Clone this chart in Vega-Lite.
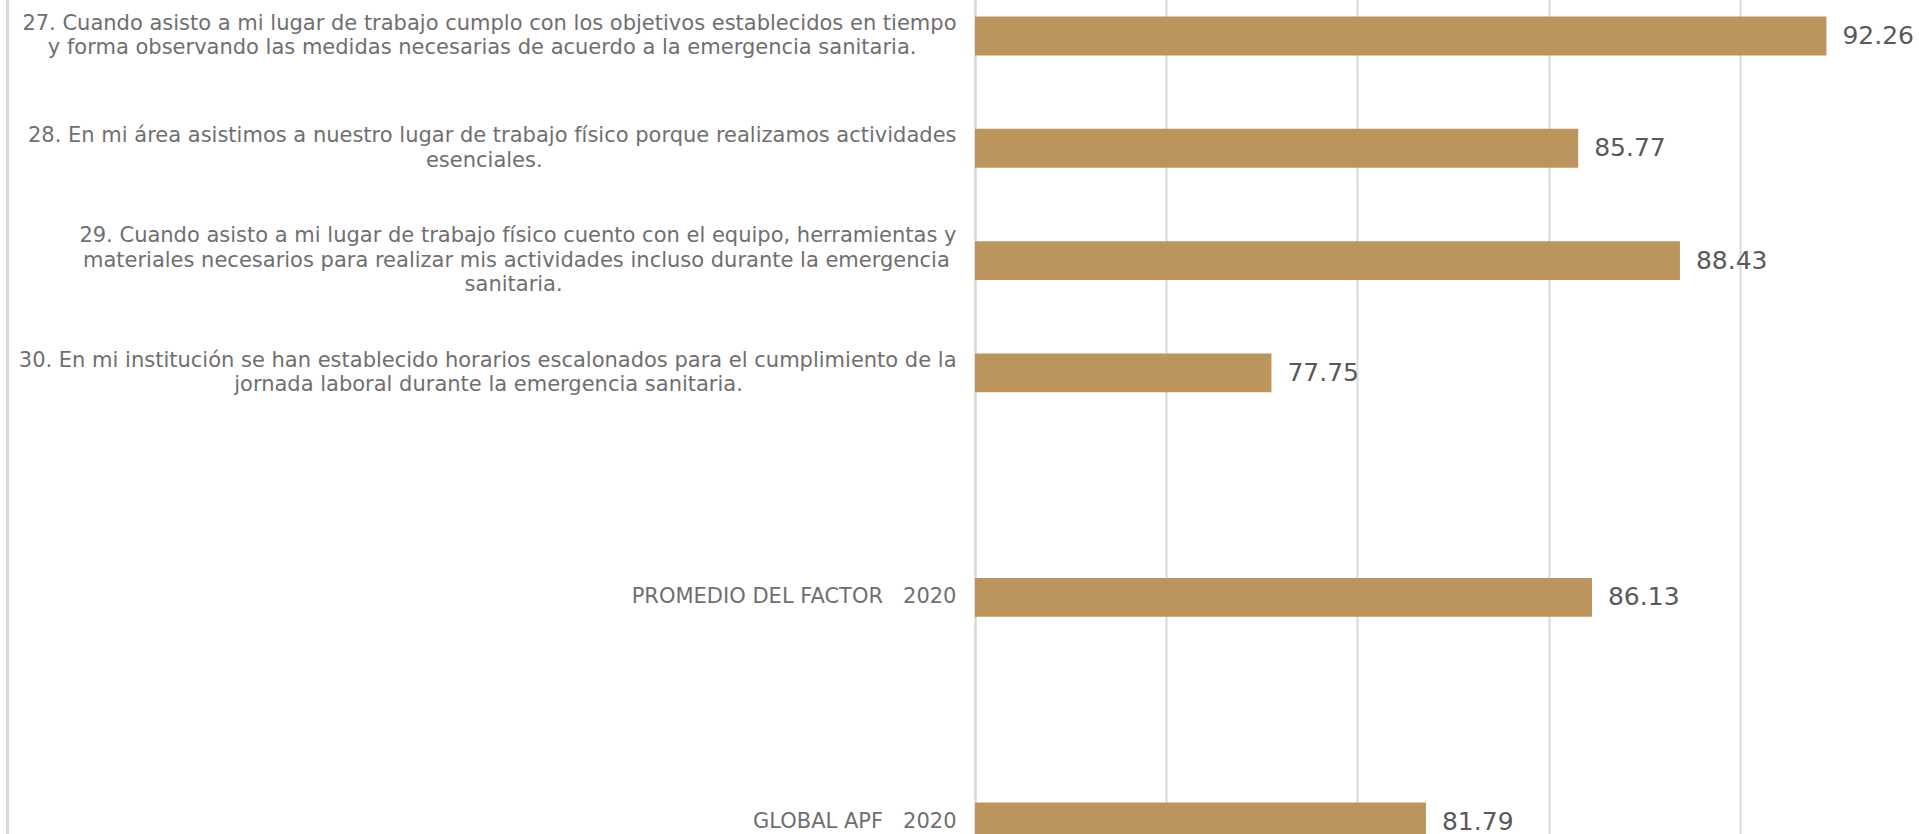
{
  "$schema": "https://vega.github.io/schema/vega-lite/v6.json",
  "autosize": "none",
  "padding": {"left": 975, "top": 0, "right": 0, "bottom": 0},
  "width": 944,
  "height": 834,
  "background": "white",
  "config": {"view": {"stroke": null}},
  "data": {
    "values": [
      {"item": "27. Cuando asisto a mi lugar de trabajo cumplo con los objetivos establecidos en tiempo|y forma observando las medidas necesarias de acuerdo a la emergencia sanitaria.", "value": 92.26},
      {"item": "28. En mi área asistimos a nuestro lugar de trabajo físico porque realizamos actividades|esenciales.", "value": 85.77},
      {"item": "29. Cuando asisto a mi lugar de trabajo físico cuento con el equipo, herramientas y|materiales necesarios para realizar mis actividades incluso durante la emergencia|sanitaria.", "value": 88.43},
      {"item": "30. En mi institución se han establecido horarios escalonados para el cumplimiento de la|jornada laboral durante la emergencia sanitaria.", "value": 77.75},
      {"item": "PROMEDIO DEL FACTOR \u00a0 2020", "value": 86.13},
      {"item": "GLOBAL APF \u00a0 2020", "value": 81.79}
    ]
  },
  "resolve": {"scale": {"y": "independent"}, "axis": {"y": "independent"}},
  "layer": [
    {
      "mark": {"type": "bar", "color": "#BC955C"},
      "encoding": {
        "y": {
          "field": "item",
          "type": "nominal",
          "sort": null,
          "scale": {
            "domain": [
              "27. Cuando asisto a mi lugar de trabajo cumplo con los objetivos establecidos en tiempo|y forma observando las medidas necesarias de acuerdo a la emergencia sanitaria.",
              "28. En mi área asistimos a nuestro lugar de trabajo físico porque realizamos actividades|esenciales.",
              "29. Cuando asisto a mi lugar de trabajo físico cuento con el equipo, herramientas y|materiales necesarios para realizar mis actividades incluso durante la emergencia|sanitaria.",
              "30. En mi institución se han establecido horarios escalonados para el cumplimiento de la|jornada laboral durante la emergencia sanitaria.",
              "gap1",
              "PROMEDIO DEL FACTOR \u00a0 2020",
              "gap2",
              "GLOBAL APF \u00a0 2020"
            ],
            "range": [-20.1, 878],
            "paddingInner": 0.654,
            "paddingOuter": 0.327
          },
          "axis": {
            "orient": "left",
            "title": null,
            "ticks": false,
            "domain": true,
            "domainColor": "#d9d9d9",
            "domainWidth": 2.5,
            "labelPadding": 19,
            "labelLimit": 1200,
            "labelFont": "DejaVu Sans",
            "labelFontSize": 21,
            "labelColor": "#6f6f6f",
            "labelLineHeight": 24.5,
            "labelOffset": {
              "condition": [
                {"test": "length(split(datum.value, '|')) == 3", "value": -24.5},
                {"test": "length(split(datum.value, '|')) == 2", "value": -12.25}
              ],
              "value": 0
            },
            "labelExpr": "indexof(datum.value, 'gap') == 0 ? '' : slice([split(datum.value + '||', '|')[0], pad(split(datum.value + '||', '|')[1], floor(length(split(datum.value + '||', '|')[1]) + 0.81 * (length(split(datum.value + '||', '|')[0]) - length(split(datum.value + '||', '|')[1]))), '\u00a0') + '\u200b', pad(split(datum.value + '||', '|')[2], floor(length(split(datum.value + '||', '|')[2]) + 0.81 * (length(split(datum.value + '||', '|')[0]) - length(split(datum.value + '||', '|')[2]))), '\u00a0') + '\u200b'], 0, length(split(datum.value, '|')))"
          }
        },
        "x": {
          "field": "value",
          "type": "quantitative",
          "scale": {"domain": [70, 94.68], "nice": false, "zero": false},
          "axis": {
            "title": null,
            "labels": false,
            "ticks": false,
            "domain": false,
            "grid": true,
            "values": [75, 80, 85, 90],
            "gridColor": "#d9d9d9",
            "gridWidth": 2
          }
        },
        "x2": {"datum": 70}
      }
    },
    {
      "mark": {"type": "text", "align": "left", "baseline": "middle", "dx": 16, "font": "DejaVu Sans", "fontSize": 25, "color": "#595959"},
      "encoding": {
        "y": {
          "field": "item",
          "type": "nominal",
          "sort": null,
          "scale": {
            "domain": [
              "27. Cuando asisto a mi lugar de trabajo cumplo con los objetivos establecidos en tiempo|y forma observando las medidas necesarias de acuerdo a la emergencia sanitaria.",
              "28. En mi área asistimos a nuestro lugar de trabajo físico porque realizamos actividades|esenciales.",
              "29. Cuando asisto a mi lugar de trabajo físico cuento con el equipo, herramientas y|materiales necesarios para realizar mis actividades incluso durante la emergencia|sanitaria.",
              "30. En mi institución se han establecido horarios escalonados para el cumplimiento de la|jornada laboral durante la emergencia sanitaria.",
              "gap1",
              "PROMEDIO DEL FACTOR \u00a0 2020",
              "gap2",
              "GLOBAL APF \u00a0 2020"
            ],
            "range": [-20.1, 878],
            "paddingInner": 0.654,
            "paddingOuter": 0.327
          },
          "axis": {
            "orient": "left",
            "title": null,
            "ticks": false,
            "labels": false,
            "domain": true,
            "domainColor": "#d9d9d9",
            "domainWidth": 3,
            "offset": 968
          }
        },
        "x": {"field": "value", "type": "quantitative"},
        "text": {"field": "value", "type": "quantitative", "format": ".2f"}
      }
    }
  ]
}
